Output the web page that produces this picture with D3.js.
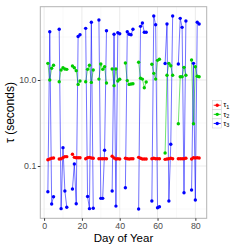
<!DOCTYPE html>
<html><head><meta charset="utf-8">
<script src="https://cdn.jsdelivr.net/npm/d3@7"></script>
<style>body{margin:0;background:#fff;} svg{display:block;font-family:"Liberation Sans",Arial,sans-serif;}</style>
</head><body>
<script>
const days = [2,3,4,5, 8,9,10,11,12, 15,16,17,18,19, 22,23,24,25,26, 29,30,31,32,33, 36,37,38,39,40, 43,44,45,46,47, 50,51,52,53,54, 57,58,59,60,61, 64,65,66,67,68, 71,72,73,74,75, 78,79,80,81,82];
const tau1 = [0.140,0.146,0.151,0.153, 0.146,0.148,0.156,0.165,0.165, 0.187,0.159,0.156,0.156,0.156, 0.148,0.156,0.159,0.153,0.151, 0.148,0.147,0.148,0.148,0.147, 0.168,0.153,0.146,0.148,0.146, 0.151,0.148,0.146,0.148,0.148, 0.159,0.151,0.146,0.146,0.146, 0.148,0.151,0.148,0.148,0.148, 0.143,0.146,0.148,0.151,0.148, 0.148,0.148,0.148,0.148,0.151, 0.146,0.156,0.153,0.156,0.153];
const tau2 = [24.4,10,18.7,22, 9.1,17.1,19.3,18,17.7, 21.2,19.3,16.5,7.9,9.5, 9.1,17.7,22,8.8,17.1, 10.5,23.6,17.7,20.4,8.5, 18,7.4,18,9.5,10.4, 24.8,9.7,7.9,8.1,8.2, 25.8,11,10.5,6.6,9.0, 23.2,14.3,10.5,28.7,30.3, 0.2,12.9,24.4,21.5,12.9, 0.96,11.9,11.9,19.7,12.9, 29.2,0.96,20.4,12.2,11.9];
const tau3 = [0.0253,133,0.0131,0.0193, 151,0.0102,0.267,0.0262,0.011, 0.0292,0.111,0.0133,103,113, 159,0.0195,0.0102,220,0.0104, 248,0.0177,0.0177,0.232,140, 0.0262,116,0.0117,126,119, 0.0313,133,116,113,151, 0.01,177,212,129,129, 0.0153,308,193,0.0107,0.0113, 24.2,201,0.0153,0.32,308, 23.6,272,168,0.0239,236, 0.0277,24.4,0.0162,220,201];
const seriesNames = ["τ1","τ2","τ3"];
const seriesColors = ["#FF0000","#00CC00","#0000FF"];
const xTicks = [0,20,40,60,80];
const xMinor = [10,30,50,70];
const yTicks = [0.1,10];
const yTickLabels = ["0.1","10.0"];
const yMinor = [0.01,1,100];

const W=245,H=245;
const L=40.3,R=206.7,T=6.7,B=218.3;
const svg=d3.select("body").append("svg").attr("width",W).attr("height",H);
const x=d3.scaleLinear().domain([-2,86]).range([L,R]);
const y=d3.scaleLog().domain([Math.pow(10,-2.216),Math.pow(10,2.705)]).range([B,T]);

// grid
const g=svg.append("g");
g.selectAll(".ymin").data(yMinor).join("line").attr("x1",L).attr("x2",R).attr("y1",d=>y(d)).attr("y2",d=>y(d)).attr("stroke","#F2F2F2").attr("stroke-width",0.5);
g.selectAll(".xmin").data(xMinor).join("line").attr("y1",T).attr("y2",B).attr("x1",d=>x(d)).attr("x2",d=>x(d)).attr("stroke","#F2F2F2").attr("stroke-width",0.5);
g.selectAll(".ymaj").data(yTicks).join("line").attr("x1",L).attr("x2",R).attr("y1",d=>y(d)).attr("y2",d=>y(d)).attr("stroke","#EBEBEB").attr("stroke-width",1);
g.selectAll(".xmaj").data(xTicks).join("line").attr("y1",T).attr("y2",B).attr("x1",d=>x(d)).attr("x2",d=>x(d)).attr("stroke","#EBEBEB").attr("stroke-width",1);

// series
const series=[tau1,tau2,tau3].map((vals,i)=>({name:seriesNames[i],color:seriesColors[i],
  pts:days.map((d,j)=>({day:d,v:vals[j],brk:j>0&&d-days[j-1]>1}))}));
function segs(pts){const out=[];let cur=[];pts.forEach(p=>{if(p.brk&&cur.length){out.push(cur);cur=[];}cur.push(p);});if(cur.length)out.push(cur);return out;}
const line=d3.line().x(d=>x(d.day)).y(d=>y(d.v));
series.forEach(s=>{
  svg.append("g").selectAll("path").data(segs(s.pts)).join("path").attr("d",line).attr("fill","none").attr("stroke",s.color).attr("stroke-width",1).attr("stroke-opacity",0.55);
});
series.forEach(s=>{
  svg.append("g").selectAll("circle").data(s.pts).join("circle").attr("cx",d=>x(d.day)).attr("cy",d=>y(d.v)).attr("r",1.7).attr("fill",s.color);
});

// border
svg.append("rect").attr("x",L).attr("y",T).attr("width",R-L).attr("height",B-T).attr("fill","none").attr("stroke","#B3B3B3").attr("stroke-width",1);

// axes
const xa=svg.append("g").attr("transform",`translate(0,${B})`).call(d3.axisBottom(x).tickValues(xTicks).tickSize(2.5).tickPadding(1.5).tickFormat(d3.format("d")));
const ya=svg.append("g").attr("transform",`translate(${L},0)`).call(d3.axisLeft(y).tickValues(yTicks).tickSize(2.5).tickPadding(1.5).tickFormat((d,i)=>yTickLabels[i]));
[xa,ya].forEach(a=>{a.select(".domain").remove();a.selectAll("line").attr("stroke","#333");a.selectAll("text").attr("fill","#4D4D4D").attr("font-size",8.8).attr("font-family","Liberation Sans, Arial, sans-serif");});

// titles
svg.append("text").attr("x",(L+R)/2).attr("y",241.5).attr("text-anchor","middle").attr("font-size",11.5).attr("fill","#000").text("Day of Year");
svg.append("text").attr("transform",`translate(13.5,${(T+B)/2}) rotate(-90)`).attr("text-anchor","middle").attr("font-size",12).attr("fill","#000").text("τ (seconds)");

// legend
const lg=svg.append("g");
const keyH=9.1, ky0=100.7, kx=212.7;
series.forEach((s,i)=>{
  const yy=ky0+i*keyH;
  lg.append("rect").attr("x",kx).attr("y",yy).attr("width",9).attr("height",keyH).attr("fill","#fff").attr("stroke","#CCCCCC").attr("stroke-width",0.5);
  lg.append("line").attr("x1",kx+1).attr("x2",kx+8).attr("y1",yy+keyH/2).attr("y2",yy+keyH/2).attr("stroke",s.color).attr("stroke-width",0.9);
  lg.append("circle").attr("cx",kx+4.5).attr("cy",yy+keyH/2).attr("r",1.7).attr("fill",s.color);
  const t=lg.append("text").attr("x",kx+10.5).attr("y",yy+keyH/2+2.2).attr("font-size",7.6).attr("fill","#000");
  t.append("tspan").text(s.name.slice(0,1));
  t.append("tspan").attr("font-size",5.5).attr("dy",1.5).text(s.name.slice(1));
});
</script>
</body></html>
